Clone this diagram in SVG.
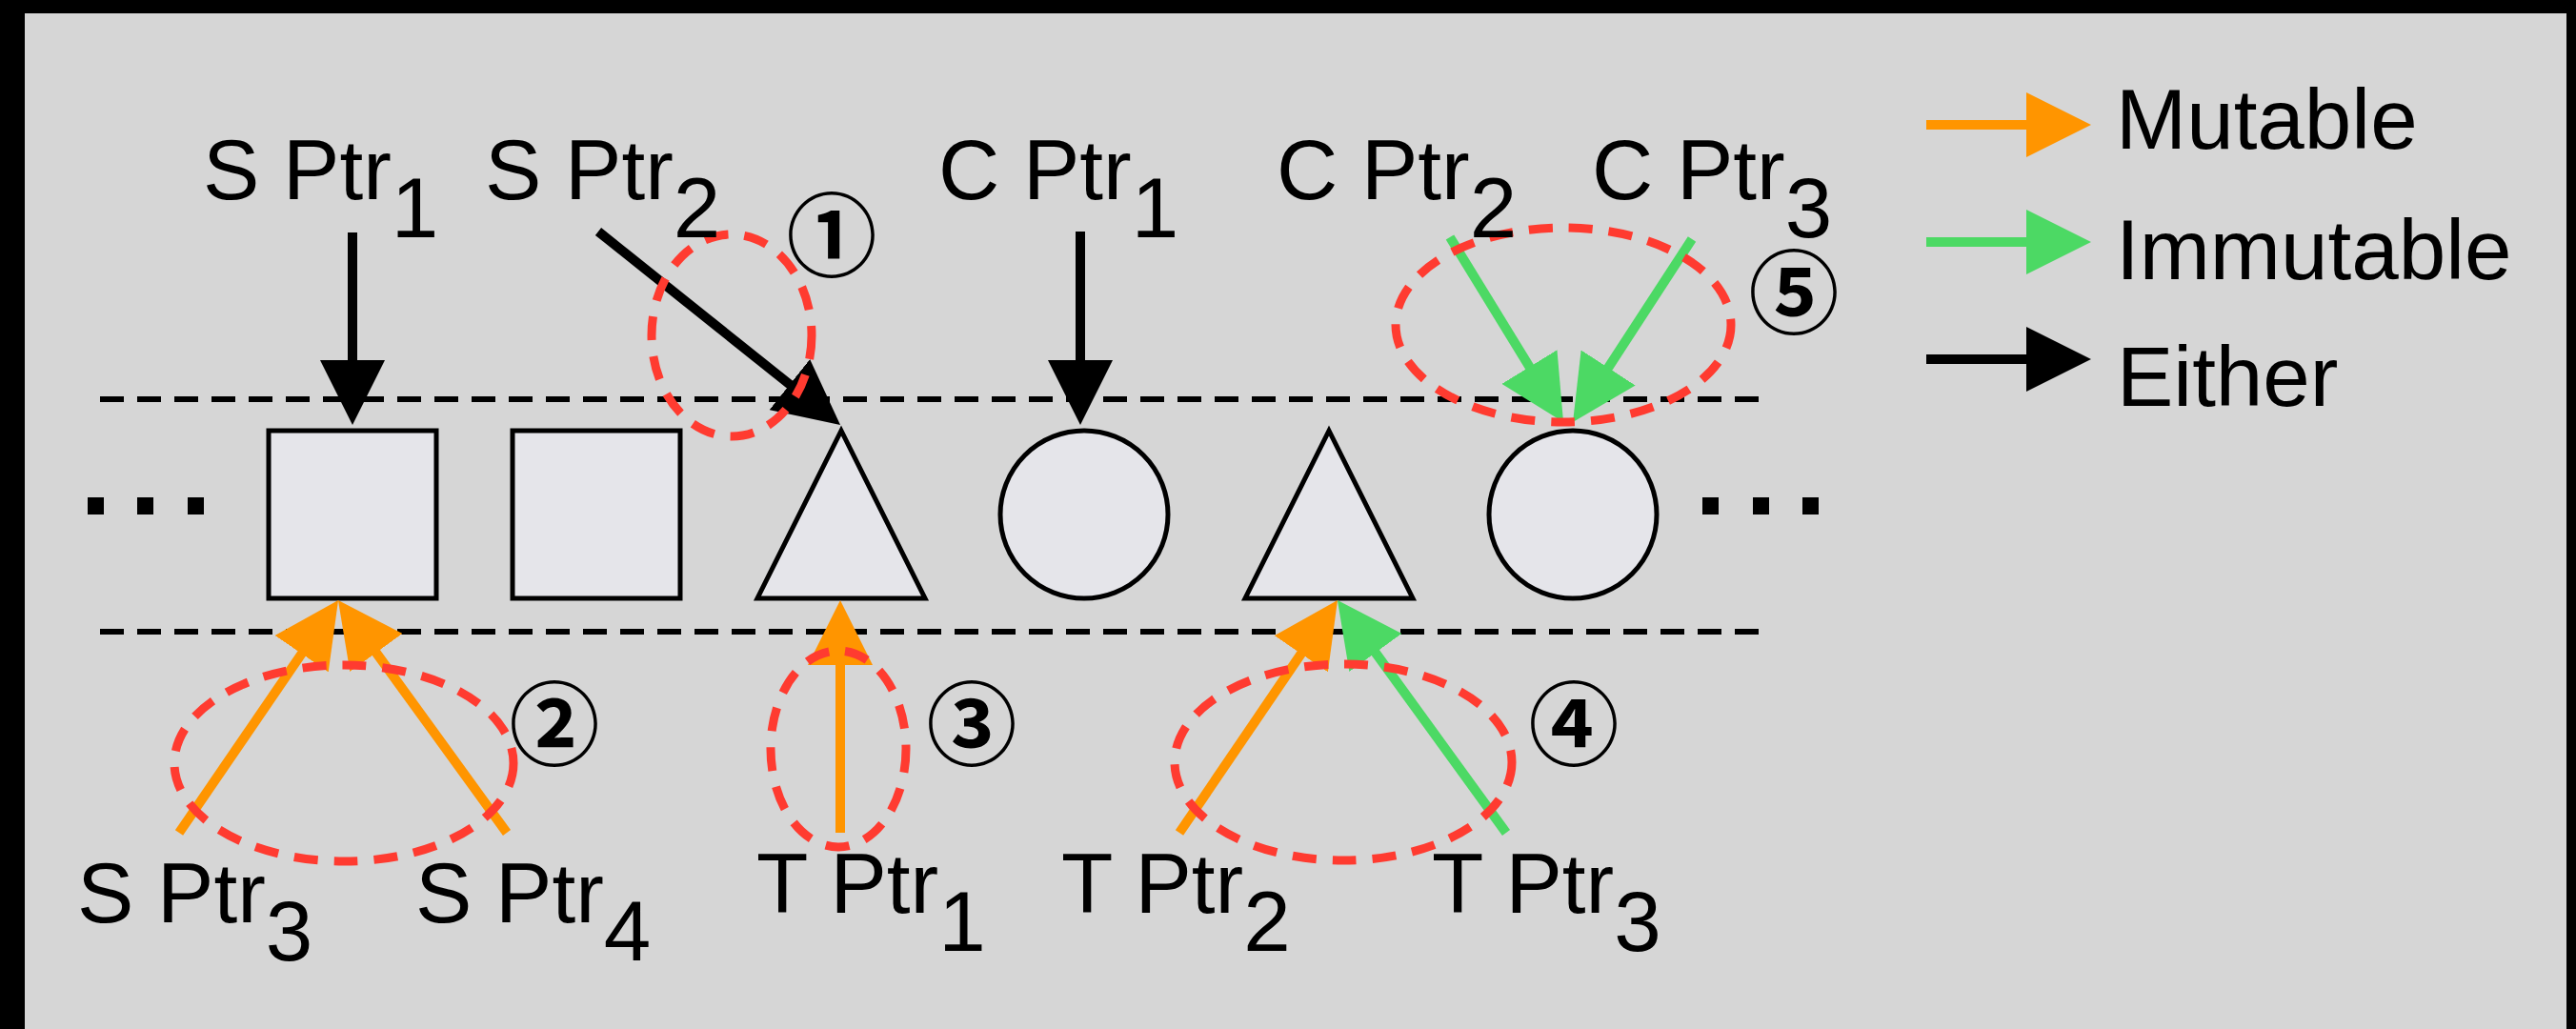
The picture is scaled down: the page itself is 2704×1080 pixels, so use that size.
<svg xmlns="http://www.w3.org/2000/svg" width="2704" height="1080" viewBox="0 0 2704 1080">
<defs>
<style>
.t{font-family:"Liberation Sans",Arial,Helvetica,sans-serif;font-size:89px;fill:#000}
.n{font-family:"Noto Sans CJK JP","DejaVu Sans",sans-serif;font-size:95px;font-weight:700;fill:#000;text-anchor:middle;dominant-baseline:central}
.shape{fill:#E5E5EA;stroke:#000;stroke-width:5}
.guide{stroke:#000;stroke-width:6;stroke-dasharray:25 14;fill:none}
.ring{fill:none;stroke:#FF3B30;stroke-width:9;stroke-dasharray:25 17}
.blk{stroke:#000;stroke-width:10;fill:none}
.org{stroke:#FF9500;stroke-width:10;fill:none}
.grn{stroke:#4CD964;stroke-width:10;fill:none}
</style>
<marker id="ab" markerUnits="userSpaceOnUse" markerWidth="70" markerHeight="68" refX="1" refY="34" orient="auto"><path d="M0,0 L68,34 L0,68 z" fill="#000"/></marker>
<marker id="ao" markerUnits="userSpaceOnUse" markerWidth="70" markerHeight="68" refX="1" refY="34" orient="auto"><path d="M0,0 L68,34 L0,68 z" fill="#FF9500"/></marker>
<marker id="ag" markerUnits="userSpaceOnUse" markerWidth="70" markerHeight="68" refX="1" refY="34" orient="auto"><path d="M0,0 L68,34 L0,68 z" fill="#4CD964"/></marker>
</defs>
<rect x="0" y="0" width="2704" height="1080" fill="#000"/>
<rect x="26" y="14" width="2668" height="1070" fill="#D6D6D6"/>

<g id="guides">
<line class="guide" x1="105" y1="419" x2="1852" y2="419"/>
<line class="guide" x1="105" y1="663" x2="1852" y2="663"/>
</g>

<g id="dots-left" fill="#000">
<rect x="92" y="522" width="17" height="18"/><rect x="144" y="522" width="17" height="18"/><rect x="197" y="522" width="17" height="18"/>
</g>
<g id="dots-right" fill="#000">
<rect x="1787" y="522" width="17" height="18"/><rect x="1840" y="522" width="17" height="18"/><rect x="1892" y="522" width="17" height="18"/>
</g>

<g id="square1"><rect class="shape" x="282" y="452" width="176" height="176"/></g>
<g id="square2"><rect class="shape" x="538" y="452" width="176" height="176"/></g>
<g id="triangle1"><polygon class="shape" points="883,452 795,628 971,628"/></g>
<g id="circle1"><circle class="shape" cx="1138" cy="540" r="88"/></g>
<g id="triangle2"><polygon class="shape" points="1395,452 1307,628 1483,628"/></g>
<g id="circle2"><circle class="shape" cx="1651" cy="540" r="88"/></g>

<g id="connectors">
<line class="blk" x1="370" y1="244" x2="370" y2="379" marker-end="url(#ab)"/>
<line class="blk" x1="628" y1="243" x2="829.7" y2="404.2" marker-end="url(#ab)"/>
<line class="blk" x1="1134" y1="243" x2="1134" y2="379" marker-end="url(#ab)"/>
<line class="grn" x1="1522" y1="249" x2="1606" y2="385.9" marker-end="url(#ag)"/>
<line class="grn" x1="1776" y1="251" x2="1687.6" y2="386.8" marker-end="url(#ag)"/>
<line class="org" x1="188" y1="874" x2="317.2" y2="685.3" marker-end="url(#ao)"/>
<line class="org" x1="532" y1="874" x2="394.3" y2="684.2" marker-end="url(#ao)"/>
<line class="org" x1="882" y1="874" x2="882" y2="697" marker-end="url(#ao)"/>
<line class="org" x1="1238" y1="874" x2="1366.3" y2="685.4" marker-end="url(#ao)"/>
<line class="grn" x1="1581" y1="874" x2="1443.3" y2="684.2" marker-end="url(#ag)"/>
</g>

<g id="highlights">
<ellipse class="ring" cx="768" cy="352" rx="84" ry="106"/>
<ellipse class="ring" cx="361" cy="801" rx="178" ry="103"/>
<ellipse class="ring" cx="880" cy="786" rx="71" ry="103"/>
<ellipse class="ring" cx="1410" cy="800" rx="177" ry="103"/>
<ellipse class="ring" cx="1641" cy="341" rx="176" ry="102"/>
</g>

<g id="labels">
<text class="t" x="213" y="209">S Ptr<tspan dy="40">1</tspan></text>
<text class="t" x="509" y="209">S Ptr<tspan dy="40">2</tspan></text>
<text class="t" x="985" y="209">C Ptr<tspan dy="40">1</tspan></text>
<text class="t" x="1340" y="209">C Ptr<tspan dy="40">2</tspan></text>
<text class="t" x="1671" y="209">C Ptr<tspan dy="40">3</tspan></text>
<text class="t" x="81" y="968">S Ptr<tspan dy="40">3</tspan></text>
<text class="t" x="436" y="968">S Ptr<tspan dy="40">4</tspan></text>
<text class="t" x="794" y="958">T Ptr<tspan dy="40">1</tspan></text>
<text class="t" x="1114" y="958">T Ptr<tspan dy="40">2</tspan></text>
<text class="t" x="1503" y="958">T Ptr<tspan dy="40">3</tspan></text>
</g>

<g id="markers-num">
<text class="n" x="873" y="241">①</text>
<text class="n" x="582" y="754">②</text>
<text class="n" x="1020" y="754">③</text>
<text class="n" x="1652" y="754">④</text>
<text class="n" x="1883" y="301">⑤</text>
</g>

<g id="legend">
<line class="org" x1="2022" y1="131" x2="2128" y2="131" marker-end="url(#ao)"/>
<line class="grn" x1="2022" y1="254" x2="2128" y2="254" marker-end="url(#ag)"/>
<line class="blk" x1="2022" y1="377" x2="2128" y2="377" marker-end="url(#ab)"/>
<text class="t" x="2221" y="156">Mutable</text>
<text class="t" x="2221" y="293">Immutable</text>
<text class="t" x="2222" y="426">Either</text>
</g>
</svg>
